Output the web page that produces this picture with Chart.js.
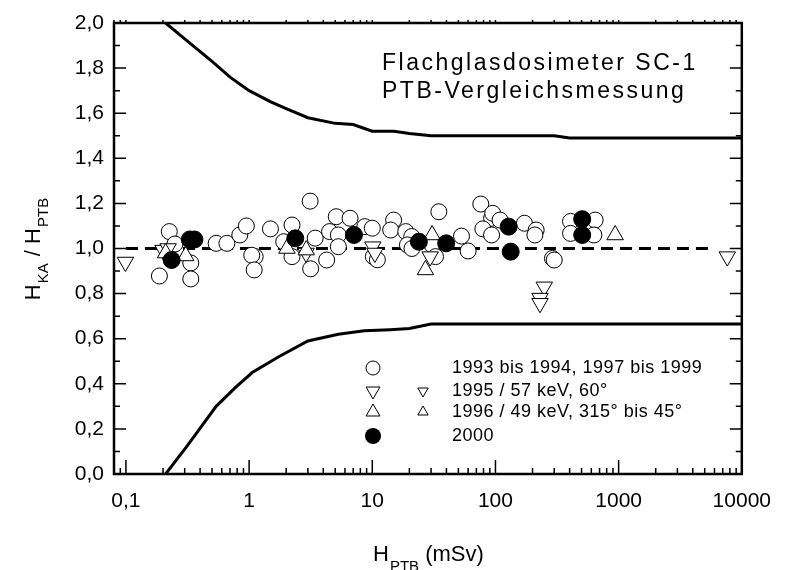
<!DOCTYPE html>
<html>
<head>
<meta charset="utf-8">
<script src="https://cdn.jsdelivr.net/npm/chart.js@4.4.0/dist/chart.umd.min.js"></script>
<style>
  html, body { margin: 0; padding: 0; background: #fff; }
</style>
</head>
<body>
<canvas id="chart" width="786" height="570"></canvas>
<script>
// limit curves (upper / lower)
var upperX = [0.21, 0.3, 0.5, 0.7, 1, 1.5, 2, 3, 5, 7, 10, 15, 20, 30, 100, 300, 400, 10000];
var upperY = [2.0, 1.93, 1.83, 1.76, 1.70, 1.65, 1.62, 1.58, 1.555, 1.55, 1.52, 1.52, 1.51, 1.50, 1.50, 1.50, 1.49, 1.49];
var lowerX = [0.21, 0.31, 0.54, 0.78, 1.06, 1.74, 3.0, 5.3, 8.6, 14, 20, 30, 10000];
var lowerY = [0.0, 0.12, 0.30, 0.385, 0.45, 0.52, 0.59, 0.62, 0.635, 0.64, 0.645, 0.665, 0.665];
// reference line
var refX = [0.1, 6000];
var refY = [1.0, 1.0];

// 1993 bis 1994, 1997 bis 1999 (open circles)
var openX = [0.225, 0.187, 0.336, 0.336, 0.25, 0.54, 0.66, 0.84, 0.95, 1.12, 1.05, 1.10, 1.49, 2.23, 1.91, 2.23,
  3.13, 3.16, 3.44, 4.26, 4.5, 5.1, 5.3, 5.3, 6.6, 8.7, 10, 10.2, 11, 14.9, 14.1, 18.7, 20.9, 19.3, 21,
  34.7, 30.6, 32.6, 53, 60, 76, 93, 95, 109, 79, 93, 172, 214, 209, 290, 300, 407, 407, 645, 630];
var openY = [1.075, 0.878, 0.936, 0.865, 1.02, 1.023, 1.023, 1.06, 1.10, 0.964, 0.97, 0.905, 1.087, 1.104, 1.03, 0.964,
  1.21, 0.91, 1.046, 0.949, 1.075, 1.141, 1.06, 1.008, 1.134, 1.097, 1.09, 0.964, 0.95, 1.126, 1.082, 1.075, 1.053, 1.016, 1.0,
  1.163, 1.016, 0.964, 1.055, 0.989, 1.197, 1.134, 1.156, 1.126, 1.087, 1.06, 1.112, 1.082, 1.06, 0.956, 0.949, 1.12, 1.067, 1.126, 1.06];
// 1995 / 57 keV, 60 deg (down triangles)
var downX = [0.099, 0.20, 0.22, 2.9, 10.1, 10.5, 29.5, 249, 230, 230, 7620];
var downY = [0.94, 0.993, 1.0, 0.98, 1.008, 0.98, 0.964, 0.83, 0.78, 0.757, 0.964];
// 1996 / 49 keV (up triangles)
var upX = [0.306, 0.21, 2.03, 2.91, 27, 30.6, 937];
var upY = [0.967, 0.98, 1.0, 0.993, 0.905, 1.06, 1.06];
// 2000 (filled circles)
var fillX = [0.235, 0.33, 0.36, 2.37, 7.1, 23.9, 39.8, 128, 133, 506, 506];
var fillY = [0.949, 1.04, 1.04, 1.045, 1.06, 1.03, 1.023, 1.097, 0.986, 1.13, 1.06];

var xTicks = [0.1, 1, 10, 100, 1000, 10000];
var yTicks = [0, 0.2, 0.4, 0.6, 0.8, 1.0, 1.2, 1.4, 1.6, 1.8, 2.0];
var legendLabels = ['1993 bis 1994, 1997 bis 1999', '1995 / 57 keV, 60°', '1996 / 49 keV, 315° bis 45°', '2000'];
var noteLines = ['Flachglasdosimeter SC-1', 'PTB-Vergleichsmessung'];

var FONT = '"Liberation Sans", Arial, sans-serif';

function pts(xs, ys) {
  return xs.map(function(x, i) { return { x: x, y: ys[i] }; });
}

// frame, inward ticks, titles, note and legend
var decor = {
  id: 'decor',
  afterDraw: function(chart) {
    var ctx = chart.ctx;
    var a = chart.chartArea;
    var xs = chart.scales.x, ys = chart.scales.y;
    ctx.save();
    ctx.strokeStyle = '#000';
    ctx.fillStyle = '#000';

    // ticks
    ctx.lineWidth = 1.5;
    ctx.beginPath();
    for (var v = 0; v <= 20; v++) {
      var py = ys.getPixelForValue(v / 10);
      var len = v % 2 === 0 ? 12 : 6;
      ctx.moveTo(a.left, py); ctx.lineTo(a.left + len, py);
      ctx.moveTo(a.right, py); ctx.lineTo(a.right - len, py);
    }
    for (var e = -2; e <= 3; e++) {
      for (var k = 1; k <= 9; k++) {
        var val = k * Math.pow(10, e);
        if (val < xs.min || val > xs.max) continue;
        var px = xs.getPixelForValue(val);
        var l = k === 1 ? 14 : 6;
        ctx.moveTo(px, a.bottom); ctx.lineTo(px, a.bottom - l);
        ctx.moveTo(px, a.top); ctx.lineTo(px, a.top - 3);
      }
    }
    var pe = xs.getPixelForValue(10000);
    ctx.moveTo(pe, a.bottom); ctx.lineTo(pe, a.bottom - 14);
    ctx.stroke();

    // frame
    ctx.lineWidth = 2.5;
    ctx.strokeRect(a.left, a.top, a.right - a.left, a.bottom - a.top);

    // x title
    ctx.textBaseline = 'alphabetic';
    ctx.textAlign = 'left';
    var big = '22px ' + FONT, small = '15px ' + FONT;
    ctx.font = big; var w1 = ctx.measureText('H').width;
    ctx.font = small; var w2 = ctx.measureText('PTB').width;
    ctx.font = big; var w3 = ctx.measureText(' (mSv)').width;
    var cx = (a.left + a.right) / 2 - (w1 + w2 + w3) / 2;
    var by = 561;
    ctx.font = big; ctx.fillText('H', cx, by);
    ctx.font = small; ctx.fillText('PTB', cx + w1 + 1, by + 10);
    ctx.font = big; ctx.fillText(' (mSv)', cx + w1 + w2 + 1, by);

    // y title
    ctx.save();
    ctx.translate(40, (a.top + a.bottom) / 2);
    ctx.rotate(-Math.PI / 2);
    var parts = [['H', big, 0], ['KA', small, 8], [' / H', big, 0], ['PTB', small, 8]];
    var tw = 0;
    parts.forEach(function(p) { ctx.font = p[1]; tw += ctx.measureText(p[0]).width + 1; });
    var sx = -tw / 2;
    parts.forEach(function(p) {
      ctx.font = p[1];
      ctx.fillText(p[0], sx, p[2]);
      sx += ctx.measureText(p[0]).width + 1;
    });
    ctx.restore();

    // note
    ctx.font = '23px ' + FONT;
    ctx.letterSpacing = '2.5px';
    ctx.textBaseline = 'middle';
    ctx.fillText(noteLines[0], 382, 64);
    ctx.fillText(noteLines[1], 382, 92);

    // legend
    ctx.font = '18px ' + FONT;
    ctx.letterSpacing = '0.5px';
    var rows = [368, 391, 412, 436];
    var mx = 373;
    ctx.lineWidth = 1;
    legendLabels.forEach(function(t, i) { ctx.fillText(t, 452, rows[i]); });
    ctx.beginPath(); ctx.arc(mx, rows[0], 7, 0, Math.PI * 2); ctx.stroke();
    function tri(x, y, r, down) {
      var s = down ? -1 : 1;
      ctx.beginPath();
      ctx.moveTo(x, y - s * r);
      ctx.lineTo(x + r * 0.866, y + s * r * 0.5);
      ctx.lineTo(x - r * 0.866, y + s * r * 0.5);
      ctx.closePath(); ctx.stroke();
    }
    tri(mx, rows[1], 8, true); tri(423, rows[1], 6, true);
    tri(mx, rows[2], 8, false); tri(423, rows[2], 6, false);
    ctx.beginPath(); ctx.arc(mx, rows[3], 8, 0, Math.PI * 2); ctx.fill();
    ctx.restore();
  }
};

var ctx = document.getElementById('chart').getContext('2d');
new Chart(ctx, {
  type: 'scatter',
  data: {
    datasets: [
      { data: pts(fillX, fillY), pointStyle: 'circle', pointRadius: 8.5, backgroundColor: '#000', borderColor: '#000', borderWidth: 1 },
      { data: pts(upX, upY), pointStyle: 'triangle', pointRadius: 9.5, backgroundColor: '#fff', borderColor: '#000', borderWidth: 1 },
      { data: pts(downX, downY), pointStyle: 'triangle', rotation: 180, pointRadius: 9.5, backgroundColor: '#fff', borderColor: '#000', borderWidth: 1 },
      { data: pts(openX, openY), pointStyle: 'circle', pointRadius: 8, backgroundColor: '#fff', borderColor: '#000', borderWidth: 1 },
      { data: pts(refX, refY), showLine: true, pointRadius: 0, borderColor: '#000', borderWidth: 3, borderDash: [12, 7] },
      { data: pts(upperX, upperY), showLine: true, pointRadius: 0, borderColor: '#000', borderWidth: 3 },
      { data: pts(lowerX, lowerY), showLine: true, pointRadius: 0, borderColor: '#000', borderWidth: 3 }
    ]
  },
  options: {
    responsive: false,
    animation: false,
    events: [],
    layout: { padding: { top: 23, right: 38, left: 0, bottom: 0 } },
    plugins: { legend: { display: false }, tooltip: { enabled: false } },
    scales: {
      x: {
        type: 'logarithmic',
        min: 0.08,
        max: 10000,
        grid: { display: false, drawTicks: false },
        border: { display: false },
        afterBuildTicks: function(s) { s.ticks = xTicks.map(function(v) { return { value: v }; }); },
        afterFit: function(s) { s.height = 96; },
        ticks: {
          autoSkip: false, maxRotation: 0, padding: 15, color: '#000',
          font: { family: FONT, size: 21 },
          callback: function(v) { return String(v).replace('.', ','); }
        }
      },
      y: {
        min: 0,
        max: 2,
        grid: { display: false, drawTicks: false },
        border: { display: false },
        afterBuildTicks: function(s) { s.ticks = yTicks.map(function(v) { return { value: v }; }); },
        afterFit: function(s) { s.width = 114; },
        ticks: {
          padding: 10, color: '#000',
          font: { family: FONT, size: 21 },
          callback: function(v) { return v.toFixed(1).replace('.', ','); }
        }
      }
    }
  },
  plugins: [decor]
});
</script>
</body>
</html>
